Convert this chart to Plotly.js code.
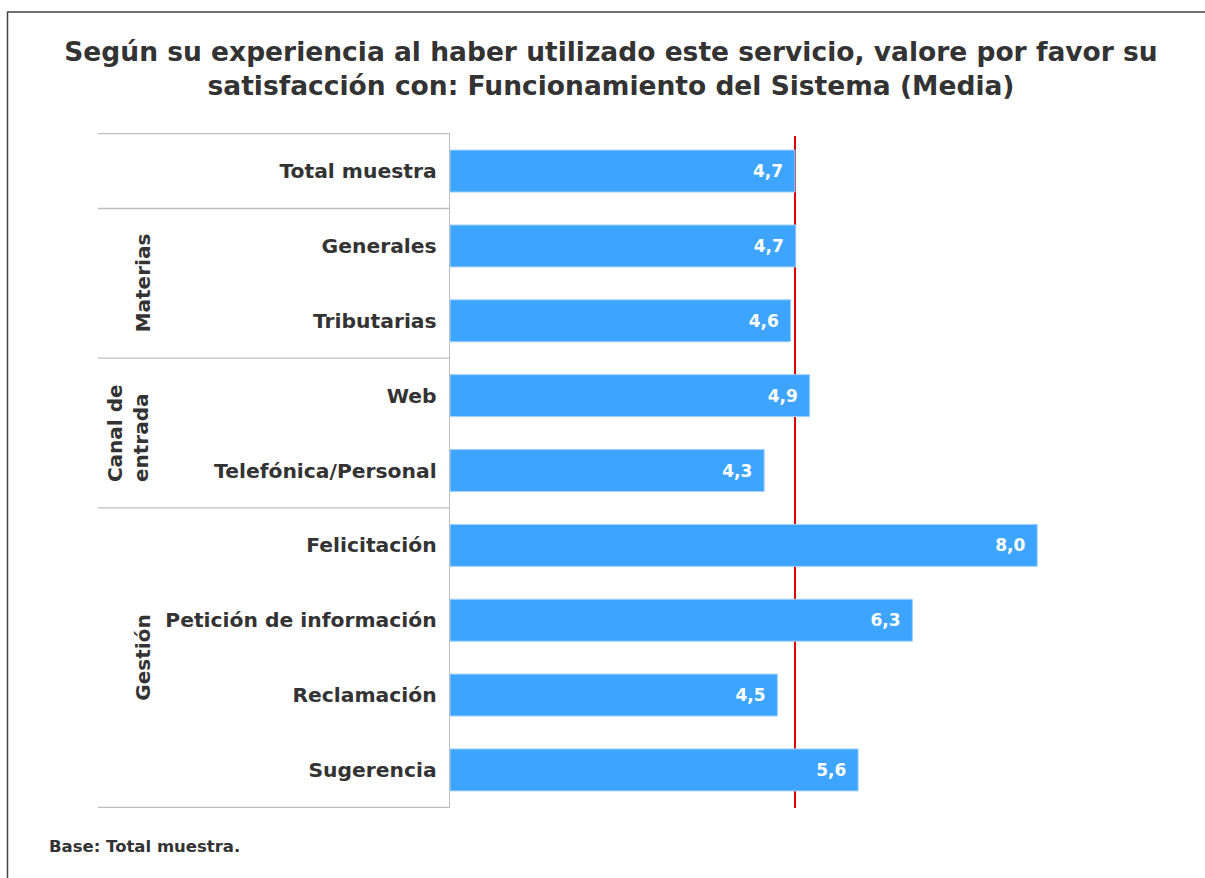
<!DOCTYPE html>
<html>
<head>
<meta charset="utf-8">
<script src="https://cdn.plot.ly/plotly-3.0.1.min.js"></script>
<style>html,body{margin:0;padding:0;background:#fff;}#chart{width:1205px;height:878px;}</style>
</head>
<body>
<div id="chart"></div>
<script>
const categories = ["Total muestra", "Generales", "Tributarias", "Web", "Telefónica/Personal",
  "Felicitación", "Petición de información", "Reclamación", "Sugerencia"];
const values = [4.7, 4.71, 4.64, 4.9, 4.28, 8.0, 6.3, 4.46, 5.56];
const referenceValue = 4.7;
const groups = [
  {label: "Materias", from: 1, to: 2, xpx: 143},
  {label: "Canal de<br>entrada", from: 3, to: 4, xpx: 128},
  {label: "Gestión", from: 5, to: 8, xpx: 143}
];
const titleText = "Según su experiencia al haber utilizado este servicio, valore por favor su<br>satisfacción con: Funcionamiento del Sistema (Media)";
const footnote = "Base: Total muestra.";

const FONT = "DejaVu Sans, Verdana, sans-serif";
const W = 1205, H = 878, L = 450, R = 50, T = 133, B = 70;
const pw = W - L - R, ph = H - T - B;
const px2paperX = px => (px - L) / pw;
const px2paperY = py => (H - B - py) / ph;

const trace = {
  type: "bar",
  orientation: "h",
  y: categories,
  x: values,
  width: 0.56,
  marker: {color: "#3DA5FF", line: {color: "#9fd0ff", width: 1}},
  texttemplate: "<b>%{x:.1f}</b>\u00a0\u2009",
  textposition: "inside",
  insidetextanchor: "end",
  insidetextfont: {family: FONT, size: 17, color: "#ffffff"},
  constraintext: "none",
  hoverinfo: "skip",
  cliponaxis: false
};

const shapes = [];
shapes.push({type: "line", layer: "below", xref: "x", yref: "paper",
  x0: referenceValue, x1: referenceValue, y0: 0, y1: px2paperY(136),
  line: {color: "#DC0000", width: 2}});
[-0.5, 0.5, 2.5, 4.5, 8.5].forEach(yv => {
  shapes.push({type: "line", xref: "paper", yref: "y",
    x0: px2paperX(98), x1: 0, y0: yv, y1: yv,
    line: {color: "#BFBFBF", width: 1.3}});
});
shapes.push({type: "line", xref: "paper", yref: "paper",
  x0: px2paperX(7), x1: px2paperX(1205), y0: px2paperY(12), y1: px2paperY(12),
  line: {color: "#404040", width: 1.5}});
shapes.push({type: "line", xref: "paper", yref: "paper",
  x0: px2paperX(7.5), x1: px2paperX(7.5), y0: px2paperY(12), y1: px2paperY(878),
  line: {color: "#404040", width: 1.5}});

const annotations = groups.map(g => ({
  xref: "paper", yref: "y",
  x: px2paperX(g.xpx), y: (g.from + g.to) / 2,
  text: "<b>" + g.label + "</b>",
  textangle: -90, showarrow: false, align: "left",
  font: {family: FONT, size: 20, color: "#333333"},
  xanchor: "center", yanchor: "middle"
}));
annotations.push({
  xref: "paper", yref: "paper",
  x: px2paperX(47), y: px2paperY(846),
  text: "<b>" + footnote + "</b>",
  showarrow: false, xanchor: "left", yanchor: "middle",
  font: {family: FONT, size: 16.5, color: "#333333"}
});

const layout = {
  width: W, height: H,
  margin: {l: L, r: R, t: T, b: B},
  paper_bgcolor: "#ffffff", plot_bgcolor: "#ffffff",
  separators: ",.",
  showlegend: false,
  title: {
    text: "<b>" + titleText + "</b>",
    font: {family: FONT, size: 26.5, color: "#333333"},
    xref: "container", yref: "container",
    x: 611 / W, xanchor: "center",
    y: 1 - 61 / H, yanchor: "top"
  },
  xaxis: {
    range: [0, pw / 73.4],
    showgrid: false, zeroline: false, showline: false,
    showticklabels: false, ticks: "", fixedrange: true
  },
  yaxis: {
    type: "category",
    autorange: "reversed",
    showgrid: false, zeroline: false,
    showline: true, linecolor: "#BFBFBF", linewidth: 1.3,
    ticks: "outside", ticklen: 8, tickcolor: "rgba(0,0,0,0)",
    tickfont: {family: FONT, size: 20.3, color: "#333333", weight: "bold"},
    fixedrange: true
  },
  shapes: shapes,
  annotations: annotations
};

Plotly.newPlot("chart", [trace], layout, {displayModeBar: false, staticPlot: true});
</script>
</body>
</html>
